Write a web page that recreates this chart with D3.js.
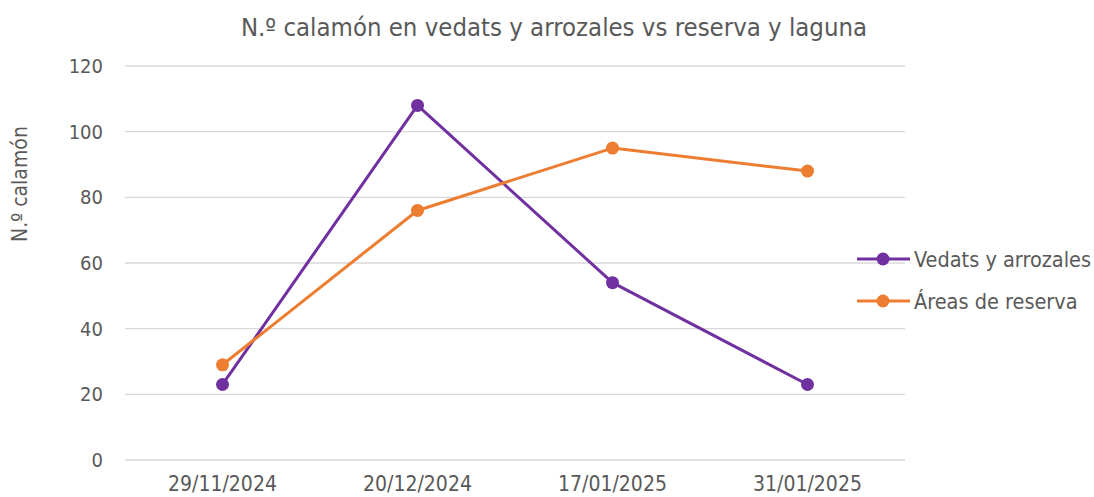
<!DOCTYPE html>
<html>
<head>
<meta charset="utf-8">
<script src="https://cdn.jsdelivr.net/npm/d3@7"></script>
<style>
  body { margin: 0; background: #fff; }
  text { font-family: "DejaVu Sans Condensed", "Liberation Sans Narrow", sans-serif; fill: #595959; }
</style>
</head>
<body>
<div id="chart"></div>
<script>
// data
const dates = ["29/11/2024", "20/12/2024", "17/01/2025", "31/01/2025"];
const vedats = [23, 108, 54, 23];
const reserva = [29, 76, 95, 88];
const yTicks = [0, 20, 40, 60, 80, 100, 120];

const series = [
    { name: "Vedats y arrozales", values: vedats, color: "#7030A0" },
    { name: "Áreas de reserva", values: reserva, color: "#ED7D31" }
];

const W = 1094, H = 497;
const plotLeft = 125, plotRight = 905, plotTop = 66, plotBottom = 460;

const svg = d3.select("#chart").append("svg")
    .attr("width", W).attr("height", H);

const x = d3.scaleBand().domain(dates).range([plotLeft, plotRight]);
const y = d3.scaleLinear().domain([0, 120]).range([plotBottom, plotTop]);

// gridlines
svg.append("g")
    .selectAll("line")
    .data(yTicks)
    .enter().append("line")
    .attr("x1", plotLeft).attr("x2", plotRight)
    .attr("y1", d => y(d)).attr("y2", d => y(d))
    .attr("stroke", "#d9d9d9").attr("stroke-width", 1.3);

// y labels
svg.append("g")
    .selectAll("text")
    .data(yTicks)
    .enter().append("text")
    .attr("x", 103).attr("y", d => y(d))
    .attr("dy", "0.35em")
    .attr("text-anchor", "end")
    .style("font-size", "20px")
    .text(d => d);

// x labels
svg.append("g")
    .selectAll("text")
    .data(dates)
    .enter().append("text")
    .attr("x", d => x(d) + x.bandwidth() / 2)
    .attr("y", 491)
    .attr("text-anchor", "middle")
    .style("font-size", "21px")
    .text(d => d);

// title
svg.append("text")
    .attr("x", 554).attr("y", 36)
    .attr("text-anchor", "middle")
    .style("font-size", "25.5px")
    .text("N.º calamón en vedats y arrozales vs reserva y laguna");

// y axis title
svg.append("text")
    .attr("transform", "translate(27,184) rotate(-90)")
    .attr("text-anchor", "middle")
    .style("font-size", "21px")
    .text("N.º calamón");

const line = d3.line()
    .x((d, i) => x(dates[i]) + x.bandwidth() / 2)
    .y(d => y(d));

series.forEach(s => {
    svg.append("path")
        .datum(s.values)
        .attr("fill", "none")
        .attr("stroke", s.color)
        .attr("stroke-width", 3)
        .attr("stroke-linejoin", "round")
        .attr("d", line);
    svg.append("g")
        .selectAll("circle")
        .data(s.values)
        .enter().append("circle")
        .attr("cx", (d, i) => x(dates[i]) + x.bandwidth() / 2)
        .attr("cy", d => y(d))
        .attr("r", 6.5)
        .attr("fill", s.color);
});

// legend
const legend = svg.append("g");
series.forEach((s, i) => {
    const ly = 259 + i * 42;
    legend.append("line")
        .attr("x1", 857).attr("x2", 910)
        .attr("y1", ly).attr("y2", ly)
        .attr("stroke", s.color).attr("stroke-width", 3);
    legend.append("circle")
        .attr("cx", 883).attr("cy", ly).attr("r", 6.5)
        .attr("fill", s.color);
    legend.append("text")
        .attr("x", 914).attr("y", ly)
        .attr("dy", "0.35em")
        .style("font-size", "21.5px")
        .text(s.name);
});
</script>
</body>
</html>
